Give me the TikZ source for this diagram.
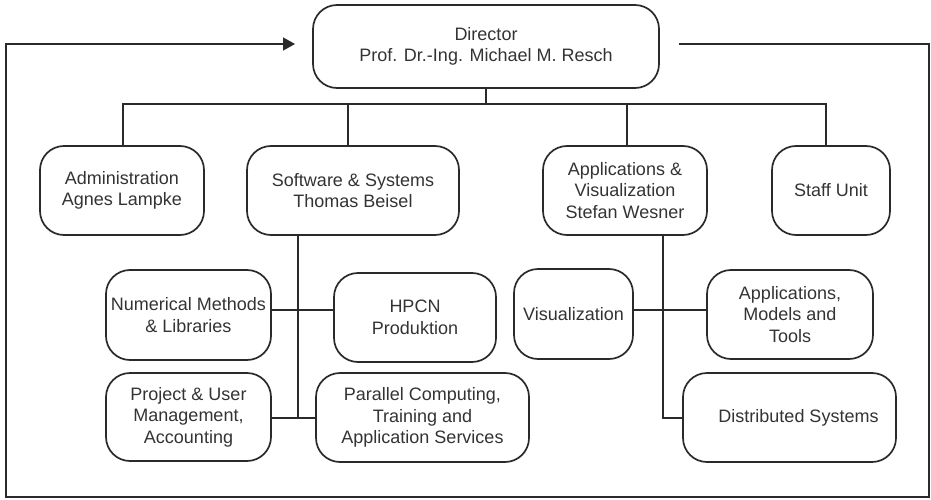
\documentclass[tikz,border=0pt]{standalone}
\usepackage{fontspec}
\setmainfont{Liberation Sans}
\usetikzlibrary{arrows.meta}
\definecolor{ink}{HTML}{2A2A2A}
\definecolor{txt}{HTML}{333333}
\tikzset{
  unit/.style={draw=ink, line width=1.7pt, rounded corners=24pt, align=center,
    text=txt, inner sep=2pt, font=\fontsize{18}{21.5}\selectfont},
  link/.style={draw=ink, line width=1.7pt},
}
\begin{document}
\begin{tikzpicture}[x=1pt,y=-1pt]
\useasboundingbox (0,0) rectangle (931,500);
% top level
\node[unit, minimum width=346pt, minimum height=83pt] (dir) at (486,46.5) {Director\\Prof. Dr.-Ing. Michael M. Resch};
% row 1
\node[unit, minimum width=164pt, minimum height=89pt] (admin) at (122,190.5) {Administration\\Agnes Lampke};
\node[unit, minimum width=212pt, minimum height=89pt] (sw) at (353,190.5) {Software \& Systems\\Thomas Beisel};
\node[unit, minimum width=164pt, minimum height=89pt] (av) at (625,190.5) {Applications \&\\Visualization\\Stefan Wesner};
\node[unit, minimum width=118pt, minimum height=89pt] (staff) at (831,190.5) {Staff Unit};
% row 2 left
\node[unit, minimum width=165pt, minimum height=90pt] (num) at (188.5,315) {Numerical Methods\\\& Libraries};
\node[unit, minimum width=162pt, minimum height=89pt] (hpcn) at (415,317.5) {HPCN\\Produktion};
\node[unit, minimum width=165pt, minimum height=88pt] (proj) at (188.5,417) {Project \& User\\Management,\\Accounting};
\node[unit, minimum width=213pt, minimum height=89pt] (par) at (422.5,417.5) {Parallel Computing,\\Training and\\Application Services};
% row 2 right
\node[unit, minimum width=119pt, minimum height=90pt] (vis) at (573.5,314) {Visualization};
\node[unit, minimum width=166pt, minimum height=89pt] (amt) at (790,314.5) {Applications,\\Models and\\Tools};
\node[unit, minimum width=213pt, minimum height=89pt] (dist) at (789.5,417.5) {\hspace*{18pt}Distributed Systems};
% helper coordinates
\coordinate (b1) at (123,104);
\coordinate (b2) at (348,104);
\coordinate (b3) at (627,104);
\coordinate (b4) at (826,104);
\coordinate (n1) at (298,310);
\coordinate (s1) at (298,418);
\coordinate (n2) at (663,310);
\coordinate (s2) at (663,418);
\coordinate (fl) at (295,44);
\coordinate (fr) at (679,44);
\coordinate (c1) at (929,44);
\coordinate (c2) at (929,497);
\coordinate (c3) at (6,497);
\coordinate (c4) at (6,44);
% tree connectors
\draw[link] (dir.south) -- (dir.south |- b1);
\draw[link] (b1 |- admin.north) -- (b1) -- (b4) -- (b4 |- staff.north);
\draw[link] (b2) -- (b2 |- sw.north);
\draw[link] (b3) -- (b3 |- av.north);
\draw[link] (s1 |- sw.south) -- (s1);
\draw[link] (num.east |- n1) -- (hpcn.west |- n1);
\draw[link] (proj.east |- s1) -- (par.west |- s1);
\draw[link] (s2 |- av.south) -- (s2) -- (s2 -| dist.west);
\draw[link] (vis.east |- n2) -- (amt.west |- n2);
% feedback frame
\draw[link, -{Triangle[length=12pt,width=13pt]}] (fr) -- (c1) -- (c2) -- (c3) -- (c4) -- (fl);
\end{tikzpicture}
\end{document}
